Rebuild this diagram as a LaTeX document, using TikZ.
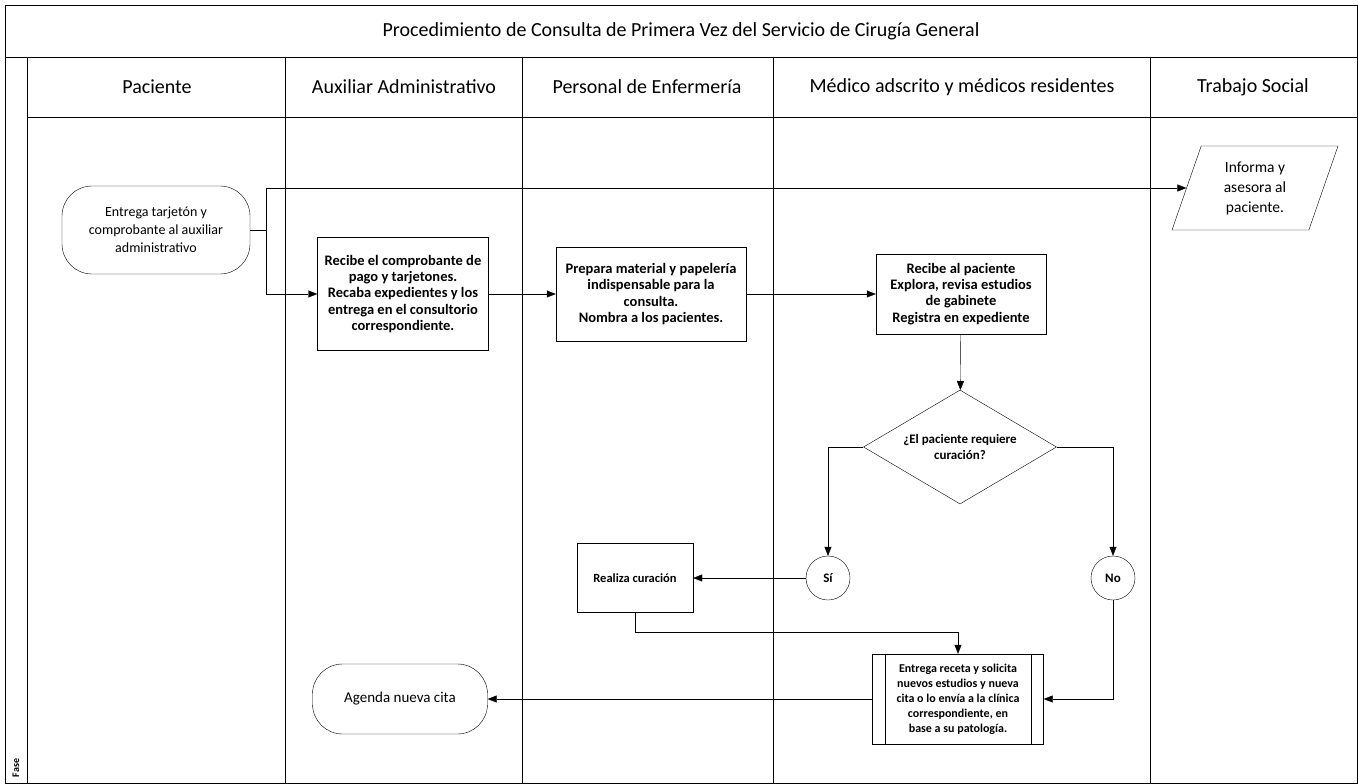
\documentclass[tikz,border=0pt]{standalone}
\usepackage{fontspec}
\setmainfont{Carlito}
\usetikzlibrary{shapes.geometric,arrows.meta}

\begin{document}
\begin{tikzpicture}[x=1pt,y=-1pt,
		proc/.style={draw, align=center, inner sep=1pt, font=\bfseries\fontsize{14.5}{16.2}\selectfont},
		small/.style={font=\bfseries\fontsize{13}{16}\selectfont},
		term/.style={draw, rounded corners=30pt, align=center, inner sep=2pt},
		head/.style={font=\fontsize{20}{24}\selectfont},
		arr/.style={-{Triangle[length=9pt,width=7pt]}},
		lane/.style={line width=0.4pt}]
				\useasboundingbox (0,0) rectangle (1358,784);
				\draw[line width=0.8pt] (5,5) rectangle (1357,783);
				\draw (5,57) -- (1357,57);
				\draw (27,57) -- (27,783);
				\draw (27,117) -- (1357,117);
				\foreach \x in {285,522,773,1150} {
					\draw (\x,57) -- (\x,117);
					\draw[lane] (\x,117) -- (\x,783);
				}
				\node[head] (title) at (681,31) {Procedimiento de Consulta de Primera Vez del Servicio de Cirugía General};
				\node[head] (h1) at (157,87) {Paciente};
				\node[head] (h2) at (404,87) {Auxiliar Administrativo};
				\node[head] (h3) at (647,87) {Personal de Enfermería};
				\node[head] (h4) at (962,87) {Médico adscrito y médicos residentes};
				\node[head] (h5) at (1253,87) {Trabajo Social};
				\node[rotate=90, font=\bfseries\fontsize{10}{12}\selectfont] (fase) at (16,768) {Fase};
				\node[term, minimum width=188, minimum height=88, font=\fontsize{14}{18}\selectfont] (pac) at (156,230) {Entrega tarjetón y\\comprobante al auxiliar\\administrativo};
				\node[draw, trapezium, trapezium left angle=64, trapezium right angle=116, trapezium stretches body, minimum width=166, minimum height=84, align=center, font=\fontsize{15.5}{20}\selectfont] (inf) at (1255,188) {Informa y\\asesora al\\paciente.};
				\node[proc, minimum width=171, minimum height=113] (aux) at (403,294) {Recibe el comprobante de\\pago y tarjetones.\\Recaba expedientes y los\\entrega en el consultorio\\correspondiente.};
				\node[proc, minimum width=190, minimum height=94] (prep) at (651,294) {Prepara material y papelería\\indispensable para la\\consulta.\\Nombra a los pacientes.};
				\node[proc, minimum width=170, minimum height=80] (med) at (961,294) {Recibe al paciente\\Explora, revisa estudios\\de gabinete\\Registra en expediente};
				\node[draw, diamond, aspect=1.7, inner sep=0pt, minimum width=193, minimum height=114, align=center, small] (dec) at (960,447) {¿El paciente requiere\\curación?};
				\node[draw, circle, minimum size=44, inner sep=0pt, small] (si) at (828,578) {Sí};
				\node[draw, circle, minimum size=44, inner sep=0pt, small] (no) at (1113,578) {No};
				\node[draw, minimum width=116, minimum height=69, font=\bfseries\fontsize{12.5}{16}\selectfont] (cur) at (635,578) {Realiza curación};
				\node[proc, minimum width=171, minimum height=90, inner sep=0pt, font=\bfseries\fontsize{12}{15}\selectfont] (entr) at (958,699) {Entrega receta y solicita\\nuevos estudios y nueva\\cita o lo envía a la clínica\\correspondiente, en\\base a su patología.};
				\draw ([xshift=13pt]entr.north west) -- ([xshift=13pt]entr.south west);
				\draw ([xshift=-13pt]entr.north east) -- ([xshift=-13pt]entr.south east);
				\node[term, minimum width=175, minimum height=70, font=\fontsize{15}{18}\selectfont] (age) at (400,699) {Agenda nueva cita};
				\coordinate (split) at (266,230);
				\draw (pac) to (split);
				\draw[arr] (split) |- (inf);
				\draw[arr] (split) |- (aux);
				\draw[arr] (aux) to (prep);
				\draw[arr] (prep) to (med);
				\draw[arr] (med) to (dec);
				\draw[arr] (dec.west) -| (si);
				\draw[arr] (dec.east) -| (no);
				\draw[arr] (si) to (cur);
				\draw[arr] (cur.south) |- ([yshift=22pt]entr.north) to (entr.north);
				\draw[arr] (no) |- (entr.east);
				\draw[arr] (entr) to (age);
			\end{tikzpicture}
\end{document}
